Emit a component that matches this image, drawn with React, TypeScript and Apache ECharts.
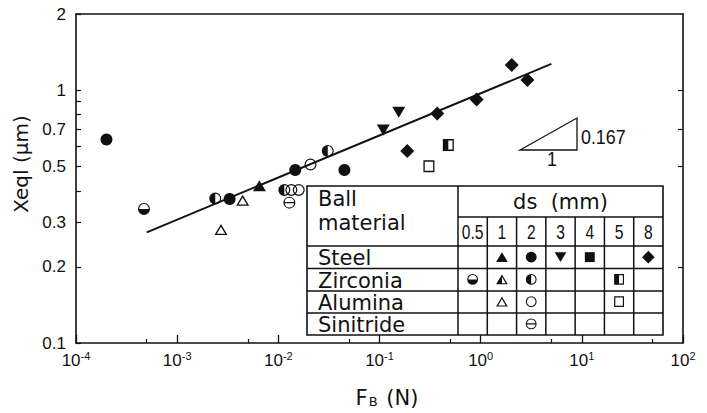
import React, { useEffect, useRef } from "react";
import * as echarts from "echarts";

// ---------- axis values ----------
const X_RANGE = [1e-4, 100];
const Y_RANGE = [0.1, 2];
const X_MAJOR_TICKS = [1e-4, 1e-3, 1e-2, 1e-1, 1, 10, 100];
const X_MINOR_TICKS = [5e-4, 5e-3, 5e-2, 5e-1, 5, 50];
const Y_LABELS = [0.1, 0.2, 0.3, 0.5, 0.7, 1, 2];
const Y_TICKS = [0.1, 0.2, 0.3, 0.4, 0.5, 0.6, 0.7, 0.8, 0.9, 1, 2];
const Y_RIGHT_TICKS = [0.2, 0.5, 0.7, 1];

// ---------- data: [F_B (N), Xeql (um)] ----------
const steel_1 = [[6.5e-3, 0.419]];
const steel_2 = [[2.0e-4, 0.638], [3.3e-3, 0.371], [0.0147, 0.483], [0.045, 0.483]];
const steel_3 = [[0.109, 0.695], [0.155, 0.817]];
const steel_8 = [[0.188, 0.575], [0.372, 0.809], [0.912, 0.918], [2.03, 1.256], [2.9, 1.096]];
const zirconia_05 = [[4.7e-4, 0.339]];
const zirconia_2 = [[2.38e-3, 0.373], [0.01146, 0.403], [0.0308, 0.575]];
const zirconia_5 = [[0.479, 0.607]];
const alumina_1 = [[4.44e-3, 0.367], [2.71e-3, 0.281]];
const alumina_2 = [[0.01345, 0.403], [0.0159, 0.403], [0.0208, 0.508]];
const alumina_5 = [[0.308, 0.5]];
const sinitride_2 = [[0.01285, 0.359]];
const fitLine = [[5e-4, 0.274], [5, 1.27]];

// ---------- legend table ----------
const materials = ["Steel", "Zirconia", "Alumina", "Sinitride"];
const dsColumns = ["0.5", "1", "2", "3", "4", "5", "8"];
// [row, col, symbolKey]
const tableCells: [number, number, string][] = [
  [0, 1, "triangle"], [0, 2, "circle"], [0, 3, "invTriangle"], [0, 4, "square"], [0, 6, "diamond"],
  [1, 0, "halfCircleBottom"], [1, 1, "halfTriangleLeft"], [1, 2, "halfCircleLeft"], [1, 5, "halfSquareLeft"],
  [2, 1, "openTriangle"], [2, 2, "openCircle"], [2, 5, "openSquare"],
  [3, 2, "barCircle"],
];

const plotGroups: { name: string; sym: string; data: number[][] }[] = [
  { name: "Steel 1", sym: "triangle", data: steel_1 },
  { name: "Steel 2", sym: "circle", data: steel_2 },
  { name: "Steel 3", sym: "invTriangle", data: steel_3 },
  { name: "Steel 8", sym: "diamond", data: steel_8 },
  { name: "Zirconia 0.5", sym: "halfCircleBottom", data: zirconia_05 },
  { name: "Zirconia 2", sym: "halfCircleLeft", data: zirconia_2 },
  { name: "Zirconia 5", sym: "halfSquareLeft", data: zirconia_5 },
  { name: "Alumina 1", sym: "openTriangle", data: alumina_1 },
  { name: "Alumina 2", sym: "openCircle", data: alumina_2 },
  { name: "Alumina 5", sym: "openSquare", data: alumina_5 },
  { name: "Sinitride 2", sym: "barCircle", data: sinitride_2 },
];

// ---------- symbols ----------
const circCW = (r: number) =>
  `M10 ${10 - r}A${r} ${r} 0 1 1 10 ${10 + r}A${r} ${r} 0 1 1 10 ${10 - r}Z`;
const circCCW = (r: number) =>
  `M10 ${10 - r}A${r} ${r} 0 1 0 10 ${10 + r}A${r} ${r} 0 1 0 10 ${10 - r}Z`;
const TRI = "M10 0L20 20L0 20Z";
const SQ = "M0 0L20 0L20 20L0 20Z";

const SYMBOLS: Record<string, { symbol: string; size: number[]; rotate?: number }> = {
  circle: { symbol: "circle", size: [12, 12] },
  openCircle: { symbol: "path://" + circCW(10) + circCCW(8), size: [12, 12] },
  halfCircleLeft: { symbol: "path://" + circCW(10) + "M10 2L10 18A8 8 0 0 0 10 2Z", size: [12, 12] },
  halfCircleBottom: { symbol: "path://" + circCW(10) + "M2 10L18 10A8 8 0 0 0 2 10Z", size: [12, 12] },
  barCircle: {
    symbol: "path://" + circCW(10) + "M2.06 9L17.94 9A8 8 0 0 0 2.06 9Z" + "M17.94 11L2.06 11A8 8 0 0 0 17.94 11Z",
    size: [12, 12],
  },
  triangle: { symbol: "path://" + TRI, size: [13, 11] },
  invTriangle: { symbol: "path://" + TRI, size: [13, 11], rotate: 180 },
  openTriangle: { symbol: "path://" + TRI + "M10 4.92L3.56 17.8L16.44 17.8Z", size: [13, 11] },
  halfTriangleLeft: { symbol: "path://" + TRI + "M10 4.92L10 17.8L16.44 17.8Z", size: [13, 11] },
  square: { symbol: "rect", size: [11, 11] },
  openSquare: { symbol: "path://" + SQ + "M2.4 2.4L2.4 17.6L17.6 17.6L17.6 2.4Z", size: [11, 12] },
  halfSquareLeft: { symbol: "path://" + SQ + "M10 2.4L10 17.6L17.6 17.6L17.6 2.4Z", size: [11, 12] },
  diamond: { symbol: "diamond", size: [14, 14] },
};

const lg = (v: number) => Math.log10(v);
const BLACK = "#111";
const TICK_FONT = "Liberation Sans";
const TEXT_FONT = "DejaVu Sans";

export default function App() {
  const ref = useRef<HTMLDivElement>(null);

  useEffect(() => {
    if (!ref.current) return;
    const chart = echarts.init(ref.current, undefined, { renderer: "svg" });

    const xMin = lg(X_RANGE[0]);
    const xMax = lg(X_RANGE[1]);
    const yMin = lg(Y_RANGE[0]);
    const yMax = lg(Y_RANGE[1]);
    const axisLineStyle = { color: BLACK, width: 1.6 };

    const scatterSeries = plotGroups.map((g) => {
      const s = SYMBOLS[g.sym];
      return {
        type: "scatter",
        name: g.name,
        xAxisIndex: 0,
        yAxisIndex: 0,
        data: g.data.map(([x, y]) => [lg(x), lg(y)]),
        symbol: s.symbol,
        symbolSize: s.size,
        symbolRotate: s.rotate || 0,
        itemStyle: { color: BLACK, opacity: 1 },
        silent: true,
        z: 4,
      };
    });

    const tableSeries = tableCells.map(([r, c, key]) => {
      const s = SYMBOLS[key];
      return {
        type: "scatter",
        name: materials[r] + " " + dsColumns[c],
        xAxisIndex: 3,
        yAxisIndex: 2,
        data: [[c + 0.5, r + 0.5]],
        symbol: s.symbol,
        symbolSize: s.size.map((v) => v * 0.9),
        symbolRotate: s.rotate || 0,
        itemStyle: { color: BLACK, opacity: 1 },
        silent: true,
        z: 10,
      };
    });

    // table layout
    const tL = 307, tT = 186, tR = 663, tB = 335, divX = 458, dsLineY = 217;
    const rowYs = [246, 268.5, 291, 313, 335];
    const colW = (tR - divX) / dsColumns.length;
    const lineEl = (x1: number, y1: number, x2: number, y2: number) => ({
      type: "line",
      z: 6,
      silent: true,
      shape: { x1, y1, x2, y2 },
      style: { stroke: BLACK, lineWidth: 1.5 },
    });
    const txt = (text: string, x: number, y: number, opts: any = {}) => ({
      type: "text",
      x,
      y,
      z: 7,
      silent: true,
      scaleX: opts.scaleX || 1,
      rotation: opts.rotation || 0,
      style: {
        text,
        fill: BLACK,
        fontSize: opts.fontSize || 20,
        fontFamily: opts.fontFamily || TEXT_FONT,
        align: opts.align || "left",
        verticalAlign: "middle",
        textAlign: opts.align || "left",
        textVerticalAlign: "middle",
        rich: opts.rich,
      },
    });

    const graphics: any[] = [
      {
        type: "rect",
        z: 5,
        silent: true,
        shape: { x: tL, y: tT, width: tR - tL, height: tB - tT },
        style: { fill: "#fff", stroke: BLACK, lineWidth: 1.6 },
      },
      lineEl(divX, tT, divX, tB),
      lineEl(divX, dsLineY, tR, dsLineY),
      ...rowYs.slice(0, 4).map((y) => lineEl(tL, y, tR, y)),
      ...dsColumns.slice(1).map((_, i) => lineEl(divX + (i + 1) * colW, dsLineY, divX + (i + 1) * colW, tB)),
      txt("Ball", 318, 199, { fontSize: 21 }),
      txt("material", 318, 223, { fontSize: 21 }),
      txt("ds  (mm)", (divX + tR) / 2, 202, { fontSize: 21, align: "center" }),
      ...dsColumns.map((d, i) =>
        txt(d, divX + (i + 0.5) * colW, 232, { fontSize: 20, fontFamily: TICK_FONT, align: "center", scaleX: 0.78 })
      ),
      ...materials.map((m, i) => txt(m, 318, (rowYs[i] + rowYs[i + 1]) / 2 + 1, { fontSize: 21 })),
      // slope indicator
      {
        type: "polygon",
        z: 6,
        silent: true,
        shape: { points: [[520, 150], [577, 150], [577, 118]] },
        style: { fill: "none", stroke: BLACK, lineWidth: 1.3 },
      },
      txt("0.167", 581, 136, { fontSize: 21, fontFamily: TICK_FONT, scaleX: 0.85 }),
      txt("1", 552, 158, { fontSize: 21, fontFamily: TICK_FONT, align: "center", scaleX: 0.85 }),
      // axis titles
      txt("Xeql (μm)", 21, 164, { fontSize: 20, align: "center", rotation: Math.PI / 2 }),
      txt("F{s|B} (N)", 387, 398, {
        fontSize: 21,
        align: "center",
        rich: { s: { fontSize: 13, fontFamily: TEXT_FONT, fill: BLACK, padding: [6, 2, 0, 1] } },
      }),
    ];

    const option: any = {
      animation: false,
      backgroundColor: "#fff",
      grid: [
        { left: 76, top: 14, right: 24, bottom: 70, show: false },
        { left: divX, top: rowYs[0], width: tR - divX, height: tB - rowYs[0], show: false },
      ],
      xAxis: [
        {
          type: "value",
          gridIndex: 0,
          min: xMin,
          max: xMax,
          position: "bottom",
          axisLine: { show: true, onZero: false, lineStyle: axisLineStyle },
          axisTick: {
            show: true,
            inside: true,
            length: 8,
            customValues: X_MAJOR_TICKS.map(lg),
            lineStyle: { color: BLACK, width: 1.3 },
          },
          axisLabel: {
            show: true,
            customValues: X_MAJOR_TICKS.map(lg),
            margin: 7,
            formatter: (v: number) => `{b|10}{s|${Math.round(v)}}`,
            rich: {
              b: { fontSize: 17, fontFamily: TICK_FONT, color: BLACK, lineHeight: 20 },
              s: { fontSize: 11, fontFamily: TICK_FONT, color: BLACK, lineHeight: 12, verticalAlign: "top" },
            },
          },
          splitLine: { show: false },
        },
        {
          type: "value",
          gridIndex: 0,
          min: xMin,
          max: xMax,
          position: "bottom",
          axisLine: { show: false, onZero: false },
          axisTick: {
            show: true,
            inside: true,
            length: 4,
            customValues: X_MINOR_TICKS.map(lg),
            lineStyle: { color: BLACK, width: 1.2 },
          },
          axisLabel: { show: false },
          splitLine: { show: false },
        },
        {
          type: "value",
          gridIndex: 0,
          min: xMin,
          max: xMax,
          position: "top",
          axisLine: { show: true, onZero: false, lineStyle: axisLineStyle },
          axisTick: { show: false },
          axisLabel: { show: false },
          splitLine: { show: false },
        },
        { type: "value", gridIndex: 1, min: 0, max: dsColumns.length, show: false },
      ],
      yAxis: [
        {
          type: "value",
          gridIndex: 0,
          min: yMin,
          max: yMax,
          position: "left",
          axisLine: { show: true, onZero: false, lineStyle: axisLineStyle },
          axisTick: {
            show: true,
            inside: true,
            length: 5,
            customValues: Y_TICKS.map(lg),
            lineStyle: { color: BLACK, width: 1.2 },
          },
          axisLabel: {
            show: true,
            customValues: Y_LABELS.map(lg),
            margin: 10,
            color: BLACK,
            fontSize: 17,
            fontFamily: TICK_FONT,
            formatter: (v: number) => String(parseFloat(Math.pow(10, v).toPrecision(2))),
          },
          splitLine: { show: false },
        },
        {
          type: "value",
          gridIndex: 0,
          min: yMin,
          max: yMax,
          position: "right",
          axisLine: { show: true, onZero: false, lineStyle: axisLineStyle },
          axisTick: {
            show: true,
            inside: true,
            length: 5,
            customValues: Y_RIGHT_TICKS.map(lg),
            lineStyle: { color: BLACK, width: 1.2 },
          },
          axisLabel: { show: false },
          splitLine: { show: false },
        },
        { type: "value", gridIndex: 1, min: 0, max: materials.length, inverse: true, show: false },
      ],
      series: [
        {
          type: "line",
          name: "fit",
          xAxisIndex: 0,
          yAxisIndex: 0,
          data: fitLine.map(([x, y]) => [lg(x), lg(y)]),
          symbol: "none",
          lineStyle: { color: BLACK, width: 1.9 },
          silent: true,
          z: 3,
        },
        ...scatterSeries,
        ...tableSeries,
      ],
      graphic: { elements: graphics },
    };

    chart.setOption(option);
    return () => chart.dispose();
  }, []);

  return (
    <div
      ref={ref}
      style={{ position: "absolute", left: 0, top: 0, width: 707, height: 413, background: "#fff" }}
    />
  );
}
